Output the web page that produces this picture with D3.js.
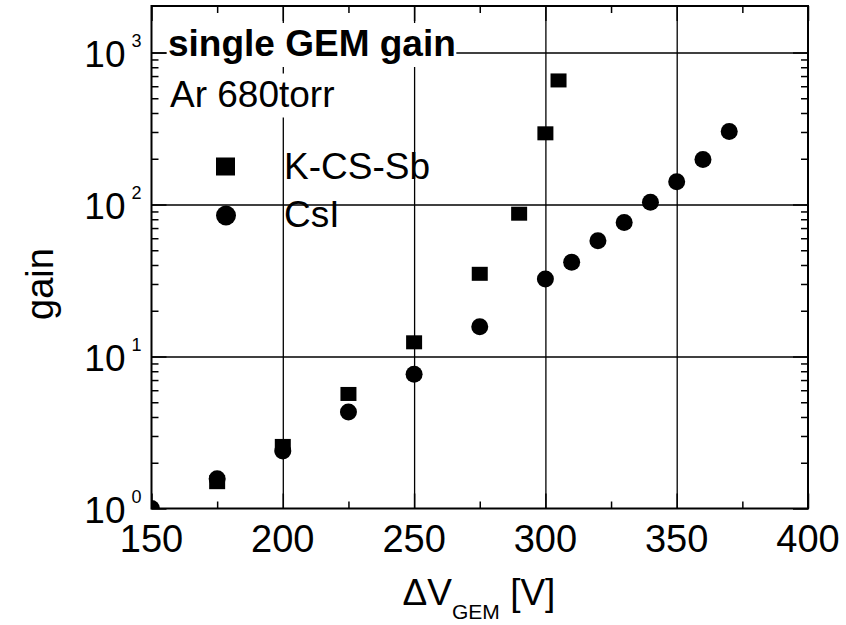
<!DOCTYPE html>
<html>
<head>
  <title>single GEM gain</title>
  <script src="https://d3js.org/d3.v7.min.js"></script>
  <style>
    body { margin: 0; background: #fff; font-family: "Liberation Sans", Arial, sans-serif; }
    text { fill: #000; }
    .grid line { stroke: #000; stroke-width: 1.3; }
    .grid path, .ticks path { display: none; }
    .ticks line { stroke: #000; stroke-width: 1.5; }
    .frame { fill: none; stroke: #000; stroke-width: 2; }
  </style>
</head>
<body>
  <div id="chart"></div>
  <script>
    // data
    const kcsVoltage = [175, 200, 225, 250, 275, 290, 300, 305];
    const kcsGain    = [1.49, 2.58, 5.67, 12.4, 35, 87, 294, 655];
    const csiVoltage = [150, 175, 200, 225, 250, 275, 300, 310, 320, 330, 340, 350, 360, 370];
    const csiGain    = [1.0, 1.57, 2.39, 4.31, 7.65, 15.7, 32.4, 41.7, 57.7, 76.2, 103.5, 141, 198, 302];

    const xTicks = [150, 200, 250, 300, 350, 400];
    const xMinorTicks = [175, 225, 275, 325, 375];
    const xGrid = [200, 250, 300, 350];
    const yTicks = [1, 10, 100, 1000];
    const yTickExp = ["0", "1", "2", "3"];
    const yGrid = [10, 100, 1000];

    const W = 846, H = 625;
    const plotL = 151.5, plotR = 808, plotT = 6, plotB = 508.5;

    const svg = d3.select("#chart").append("svg")
      .attr("width", W).attr("height", H);

    const x = d3.scaleLinear().domain([150, 400]).range([plotL, plotR]);
    const y = d3.scaleLog().domain([1, Math.pow(10, 3.306)]).range([plotB, plotT]);

    // minor ticks 2..9 per decade
    const yMinorTicks = [];
    [1, 10, 100].forEach(d => { for (let k = 2; k <= 9; k++) yMinorTicks.push(d * k); });

    // gridlines
    svg.append("g").attr("class", "grid")
      .attr("transform", `translate(0,${plotB})`)
      .call(d3.axisBottom(x).tickValues(xGrid).tickSize(-(plotB - plotT)).tickFormat(""));
    svg.append("g").attr("class", "grid")
      .attr("transform", `translate(${plotL},0)`)
      .call(d3.axisLeft(y).tickValues(yGrid).tickSize(-(plotR - plotL)).tickFormat(""));

    // text boxes with white background (they hide the grid)
    function boxedText(tx, ty, str, weight) {
      const g = svg.append("g");
      const t = g.append("text")
        .attr("x", tx).attr("y", ty)
        .attr("font-size", 37)
        .attr("font-weight", weight)
        .text(str);
      const b = t.node().getBBox();
      g.insert("rect", "text")
        .attr("x", b.x - 1.5).attr("y", b.y)
        .attr("width", b.width + 2).attr("height", b.height + 3)
        .attr("fill", "#fff");
    }
    boxedText(168, 56, "single GEM gain", "bold");
    boxedText(170, 106.5, "Ar 680torr", "normal");

    // markers
    svg.append("clipPath").attr("id", "plot")
      .append("rect").attr("x", plotL).attr("y", plotT)
      .attr("width", plotR - plotL).attr("height", plotB - plotT);

    const marks = svg.append("g").attr("clip-path", "url(#plot)");
    marks.selectAll(".sq")
      .data(kcsVoltage)
      .enter().append("rect")
        .attr("class", "sq")
        .attr("x", d => x(d) - 8)
        .attr("y", (d, i) => y(kcsGain[i]) - 7)
        .attr("width", 16).attr("height", 14)
        .attr("fill", "#000");
    marks.selectAll(".dot")
      .data(csiVoltage)
      .enter().append("circle")
        .attr("class", "dot")
        .attr("cx", d => x(d))
        .attr("cy", (d, i) => y(csiGain[i]))
        .attr("r", 8.5)
        .attr("fill", "#000");

    // legend
    svg.append("rect").attr("x", 216).attr("y", 157.5).attr("width", 19).attr("height", 18).attr("fill", "#000");
    svg.append("circle").attr("cx", 226).attr("cy", 215.5).attr("r", 10).attr("fill", "#000");
    svg.append("text").attr("x", 284).attr("y", 178.5).attr("font-size", 37).text("K-CS-Sb");
    svg.append("text").attr("x", 284).attr("y", 227).attr("font-size", 37).text("CsI");

    // ticks pointing inward on all four sides
    const tickAxes = [
      [d3.axisBottom(x).tickValues(xTicks).tickSize(-15), `translate(0,${plotB})`],
      [d3.axisBottom(x).tickValues(xMinorTicks).tickSize(-7), `translate(0,${plotB})`],
      [d3.axisTop(x).tickValues(xTicks).tickSize(-15), `translate(0,${plotT})`],
      [d3.axisTop(x).tickValues(xMinorTicks).tickSize(-7), `translate(0,${plotT})`],
      [d3.axisLeft(y).tickValues(yTicks).tickSize(-15), `translate(${plotL},0)`],
      [d3.axisLeft(y).tickValues(yMinorTicks).tickSize(-7), `translate(${plotL},0)`],
      [d3.axisRight(y).tickValues(yTicks).tickSize(-15), `translate(${plotR},0)`],
      [d3.axisRight(y).tickValues(yMinorTicks).tickSize(-7), `translate(${plotR},0)`]
    ];
    tickAxes.forEach(([ax, tr]) => {
      svg.append("g").attr("class", "ticks").attr("transform", tr)
        .call(ax.tickSizeOuter(0).tickFormat(""));
    });

    // frame
    svg.append("rect").attr("class", "frame")
      .attr("x", plotL).attr("y", plotT)
      .attr("width", plotR - plotL).attr("height", plotB - plotT);

    // x tick labels
    svg.append("g").selectAll("text")
      .data(xTicks)
      .enter().append("text")
        .attr("x", d => x(d))
        .attr("y", 551.5)
        .attr("text-anchor", "middle")
        .attr("font-size", 38)
        .text(d => d);

    // y tick labels 10^n
    const yl = svg.append("g").selectAll("text")
      .data(yTicks)
      .enter().append("text")
        .attr("x", 141.5)
        .attr("y", d => y(d) + 14.5)
        .attr("text-anchor", "end")
        .attr("font-size", 37);
    yl.append("tspan").text("10");
    yl.append("tspan").attr("dx", 6).attr("dy", -20).attr("font-size", 18)
      .text((d, i) => yTickExp[i]);

    // axis titles
    const xt = svg.append("text")
      .attr("x", 479).attr("y", 605)
      .attr("text-anchor", "middle")
      .attr("font-size", 37);
    xt.append("tspan").text("\u0394V");
    xt.append("tspan").attr("font-size", 21).attr("dy", 14).text("GEM");
    xt.append("tspan").attr("dy", -14).text(" [V]");

    svg.append("text")
      .attr("transform", "translate(53,284) rotate(-90)")
      .attr("text-anchor", "middle")
      .attr("font-size", 38)
      .text("gain");
  </script>
</body>
</html>
